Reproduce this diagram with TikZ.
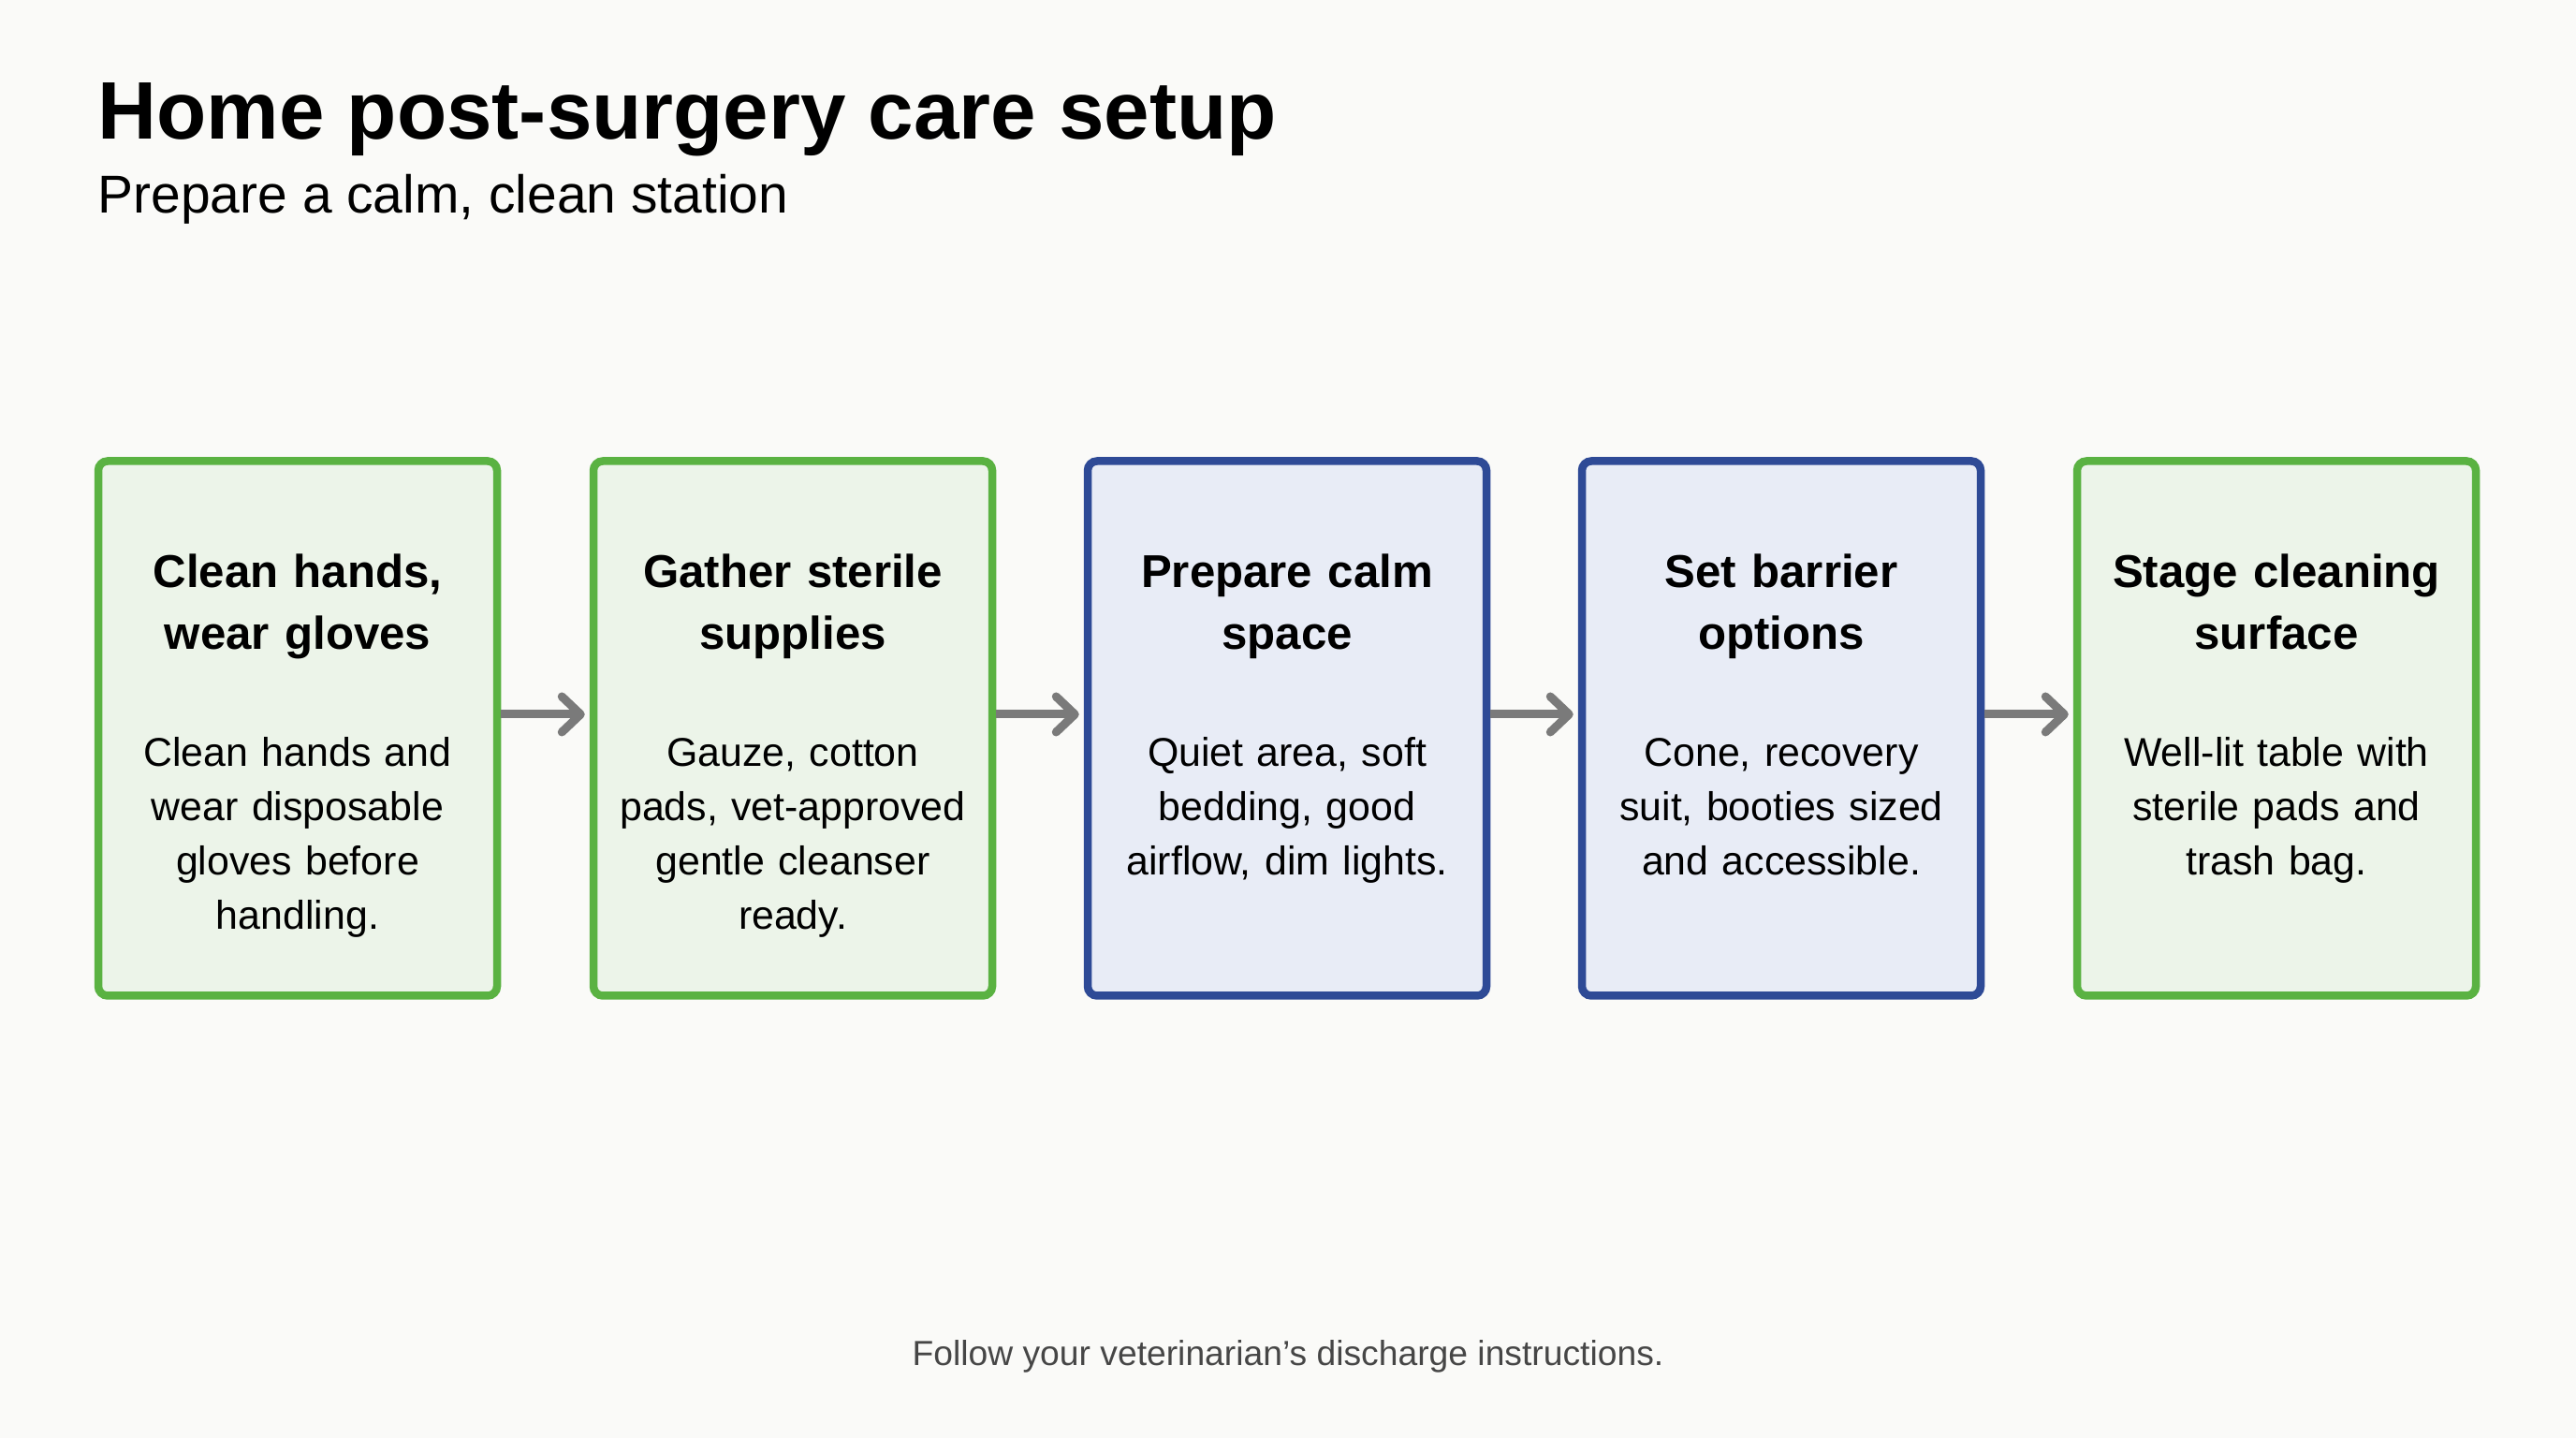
\documentclass[tikz,border=0pt]{standalone}
\usepackage{fontspec}
\setmainfont{Liberation Sans}
\usetikzlibrary{arrows.meta}
\definecolor{pagebg}{RGB}{250,250,248}
\definecolor{greenline}{RGB}{90,178,66}
\definecolor{greenfill}{RGB}{236,244,233}
\definecolor{blueline}{RGB}{46,74,150}
\definecolor{bluefill}{RGB}{232,236,246}
\definecolor{arrowgray}{RGB}{122,122,122}
\definecolor{notegray}{RGB}{70,70,70}
\begin{document}
\begin{tikzpicture}[
    stepbox/.style={rectangle, draw, line width=0.085cm, rounded corners=0.1cm, minimum width=4.26cm, minimum height=5.71cm},
    greenbox/.style={stepbox, draw=greenline, fill=greenfill},
    bluebox/.style={stepbox, draw=blueline, fill=bluefill},
    head/.style={anchor=base, text width=4cm, align=center, inner sep=0pt, font=\fontsize{14}{18.8}\selectfont\bfseries},
    body/.style={anchor=base, text width=4cm, align=center, inner sep=0pt, font=\fontsize{12.2}{16.5}\selectfont},
    flow/.style={draw=arrowgray, line width=0.09cm, -{Straight Barb[round, length=0.2cm, width=0.38cm]}, shorten >=0.05cm}
]
\fill[pagebg] (0,0) rectangle (27.52,15.36);
\useasboundingbox (0,0) rectangle (27.52,15.36);

% Heading
\node[anchor=base west, inner sep=0pt, font=\fontsize{24.8}{30}\selectfont\bfseries] (title) at (1.04,13.87) {Home post-surgery care setup};
\node[anchor=base west, inner sep=0pt, font=\fontsize{16.2}{20}\selectfont] (subtitle) at (1.04,13.08) {Prepare a calm, clean station};

% Steps
\node[greenbox] (hands) at (3.18,7.58)  {};
\node[greenbox] (supply) at (8.47,7.58) {};
\node[bluebox] (space) at (13.75,7.58)  {};
\node[bluebox] (barrier) at (19.03,7.58) {};
\node[greenbox] (surface) at (24.32,7.58) {};

% Step titles
\node[head] (hands-h) at ([yshift=-1.39cm]hands.north)     {Clean hands,\\wear gloves};
\node[head] (supply-h) at ([yshift=-1.39cm]supply.north)   {Gather sterile\\supplies};
\node[head] (space-h) at ([yshift=-1.39cm]space.north)     {Prepare calm\\space};
\node[head] (barrier-h) at ([yshift=-1.39cm]barrier.north) {Set barrier\\options};
\node[head] (surface-h) at ([yshift=-1.39cm]surface.north) {Stage cleaning\\surface};

% Step texts
\node[body] (hands-t) at ([yshift=-3.3cm]hands.north)     {Clean hands and\\wear disposable\\gloves before\\handling.};
\node[body] (supply-t) at ([yshift=-3.3cm]supply.north)   {Gauze, cotton\\pads, vet-approved\\gentle cleanser\\ready.};
\node[body] (space-t) at ([yshift=-3.3cm]space.north)     {Quiet area, soft\\bedding, good\\airflow, dim lights.};
\node[body] (barrier-t) at ([yshift=-3.3cm]barrier.north) {Cone, recovery\\suit, booties sized\\and accessible.};
\node[body] (surface-t) at ([yshift=-3.3cm]surface.north) {Well-lit table with\\sterile pads and\\trash bag.};

% Arrows
\draw[flow] ([yshift=0.15cm]hands.east) -- ([yshift=0.15cm]supply.west);
\draw[flow] ([yshift=0.15cm]supply.east) -- ([yshift=0.15cm]space.west);
\draw[flow] ([yshift=0.15cm]space.east) -- ([yshift=0.15cm]barrier.west);
\draw[flow] ([yshift=0.15cm]barrier.east) -- ([yshift=0.15cm]surface.west);

% Note
\node[anchor=base, inner sep=0pt, text=notegray, font=\fontsize{10.6}{13}\selectfont] (note) at (13.76,0.78) {Follow your veterinarian’s discharge instructions.};
\end{tikzpicture}
\end{document}
